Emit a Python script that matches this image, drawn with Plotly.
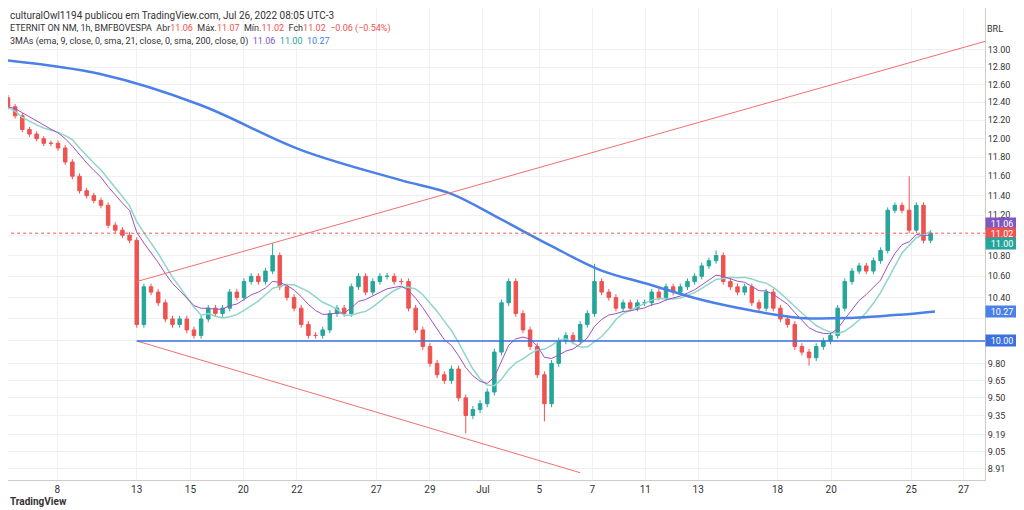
import plotly.graph_objects as go
import pandas as pd
import numpy as np

closes = [12.35,12.25,12.1,12.05,12.0,11.95,11.95,11.9,11.75,11.6,11.45,11.4,11.35,11.3,11.1,11.05,11.0,10.95,
10.15,10.5,10.45,10.35,10.2,10.15,10.2,10.1,10.05,10.2,10.3,10.25,10.3,10.45,10.4,10.55,10.6,10.55,10.65,10.8,
10.5,10.4,10.3,10.15,10.05,10.05,10.1,10.25,10.3,10.25,10.5,10.6,10.45,10.55,10.6,10.6,10.55,10.55,10.3,10.1,
9.95,9.8,9.7,9.65,9.75,9.5,9.35,9.4,9.45,9.55,9.9,10.35,10.55,10.25,10.1,9.95,9.7,9.45,9.8,10.0,10.05,10.0,
10.15,10.25,10.55,10.45,10.4,10.3,10.35,10.3,10.35,10.35,10.45,10.4,10.5,10.45,10.5,10.55,10.6,10.7,10.75,10.8,
10.55,10.5,10.45,10.5,10.35,10.3,10.45,10.3,10.2,10.15,9.95,9.9,9.85,9.95,10.0,10.05,10.3,10.55,10.65,10.7,
10.65,10.75,10.85,11.25,11.3,11.25,11.05,11.3,10.95,11.02]
first_open = 12.45
spikes = {37: 10.92, 75: 9.3, 64: 9.2, 126: 11.6, 112: 9.78, 82: 10.72, 99: 10.85}

sma200_idx = [-0.4,12.9,26.9,40.9,54.9,61.9,68.9,75.8,82.8,89.8,96.8,103.8,110.8,117.8,124.8,129.6]
sma200_val = [12.88,12.72,12.37,11.88,11.56,11.42,11.16,10.9,10.66,10.52,10.38,10.28,10.21,10.21,10.24,10.27]

tick_idx = [6.9,18,25.5,32.9,40.4,51.5,59,66.4,74.3,81.7,89.1,96.5,107.6,115.1,126.3,133.6]
tick_txt = ["8","13","15","20","22","27","29","Jul","5","7","11","13","18","20","25","27"]
ytick_vals = [13.00,12.80,12.60,12.40,12.20,12.00,11.80,11.60,11.40,11.20,11.00,10.80,10.60,10.40,10.20,10.00,9.80,9.65,9.50,9.35,9.19,9.05,8.91]
hidden_ticks = [11.00, 10.20, 10.00]

upper_line = ([18, 136.6], [10.55, 13.1])
lower_line = ([18, 80], [10.0, 8.88])
support = 10.00

n = len(closes)
x = list(range(n))
opens = [first_open] + closes[:-1]
highs = [max(o, c) + 0.03 for o, c in zip(opens, closes)]
lows = [min(o, c) - 0.03 for o, c in zip(opens, closes)]
for k, v in spikes.items():
    if v > highs[k]: highs[k] = v
    else: lows[k] = v

s = pd.Series(closes)
ema9 = s.ewm(span=9, adjust=False).mean()
sma21 = s.rolling(10, min_periods=1).mean()

fig = go.Figure()
fig.add_trace(go.Candlestick(x=x, open=opens, high=highs, low=lows, close=closes,
    increasing=dict(line=dict(color="#26a69a", width=1), fillcolor="#26a69a"),
    decreasing=dict(line=dict(color="#ef5350", width=1), fillcolor="#ef5350"), whiskerwidth=0))
fig.add_trace(go.Scatter(x=x, y=sma21, mode="lines", line=dict(color="#8fd6c8", width=1.5)))
fig.add_trace(go.Scatter(x=x, y=ema9, mode="lines", line=dict(color="#a050c0", width=1)))
fig.add_trace(go.Scatter(x=sma200_idx, y=sma200_val, mode="lines", line=dict(color="#4a80e8", width=2.5, shape="spline")))
fig.add_trace(go.Scatter(x=upper_line[0], y=upper_line[1], mode="lines", line=dict(color="#f07070", width=1)))
fig.add_trace(go.Scatter(x=lower_line[0], y=lower_line[1], mode="lines", line=dict(color="#f07070", width=1)))
fig.add_trace(go.Scatter(x=[18, 136.6], y=[support, support], mode="lines", line=dict(color="#3a70e0", width=1.5)))
fig.add_trace(go.Scatter(x=[-0.4, 136.6], y=[closes[-1]]*2, mode="lines", line=dict(color="#ef5350", width=1, dash="dot")))

fig.update_layout(width=1016, height=502, showlegend=False, plot_bgcolor="white", paper_bgcolor="white",
    margin=dict(l=0, r=39, t=0, b=30, autoexpand=False), font=dict(family="Roboto", size=10, color="#333"),
    xaxis=dict(range=[0, 136.6], tickvals=tick_idx, ticktext=tick_txt, rangeslider=dict(visible=False),
               showgrid=True, gridcolor="#f0f0f0", showline=True, linecolor="#ccc", ticks="", zeroline=False),
    yaxis=dict(type="log", side="right", range=[np.log10(8.822), np.log10(13.50)], tickvals=ytick_vals,
               ticktext=["" if v in hidden_ticks else f"{v:.2f}" for v in ytick_vals], showgrid=True, gridcolor="#f0f0f0",
               showline=True, linecolor="#ccc", ticks="", tickfont=dict(size=9)))

labels = [(11.06, "#7e57c2", 10), (11.02, "#ef5350", 0), (11.00, "#26a69a", -10)]
for v, col, sh in labels:
    fig.add_annotation(xref="paper", x=1.0, xanchor="left", y=np.log10(11.02), yref="y", yshift=sh, text=f"{v:.2f}",
        showarrow=False, bgcolor=col, font=dict(color="white", size=9), width=30, height=9)
for v, col in [(10.27, "#4a80e8"), (10.00, "#3a70e0")]:
    fig.add_annotation(xref="paper", x=1.0, xanchor="left", y=np.log10(v), yref="y", text=f"{v:.2f}",
        showarrow=False, bgcolor=col, font=dict(color="white", size=9), width=30, height=9)
fig.add_annotation(xref="paper", yref="paper", x=0.0, y=1.0, xanchor="left", yanchor="top", showarrow=False,
    text="culturalOwl1194 publicou em TradingView.com, Jul 26, 2022 08:05 UTC-3", font=dict(size=10, color="#333"))
fig.add_annotation(xref="paper", yref="paper", x=0.0, y=0.972, xanchor="left", yanchor="top", showarrow=False,
    text="ETERNIT ON NM, 1h, BMFBOVESPA  Abr<span style='color:#ef5350'>11.06</span>  Máx.<span style='color:#ef5350'>11.07</span>  Mín.<span style='color:#ef5350'>11.02</span>  Fch<span style='color:#ef5350'>11.02  −0.06 (−0.54%)</span>",
    font=dict(size=9, color="#333"))
fig.add_annotation(xref="paper", yref="paper", x=0.0, y=0.945, xanchor="left", yanchor="top", showarrow=False,
    text="3MAs (ema, 9, close, 0, sma, 21, close, 0, sma, 200, close, 0)  <span style='color:#7e57c2'>11.06</span>  <span style='color:#26a69a'>11.00</span>  <span style='color:#4a80e8'>10.27</span>",
    font=dict(size=9, color="#333"))
fig.add_annotation(xref="paper", yref="paper", x=1.0, y=0.97, xanchor="left", showarrow=False, text="BRL", font=dict(size=9))
fig.add_annotation(xref="paper", yref="paper", x=0.0, y=-0.045, xanchor="left", yanchor="middle", showarrow=False,
    text="<b>TradingView</b>", font=dict(size=10, color="#333"))
fig.write_html("out.html")
